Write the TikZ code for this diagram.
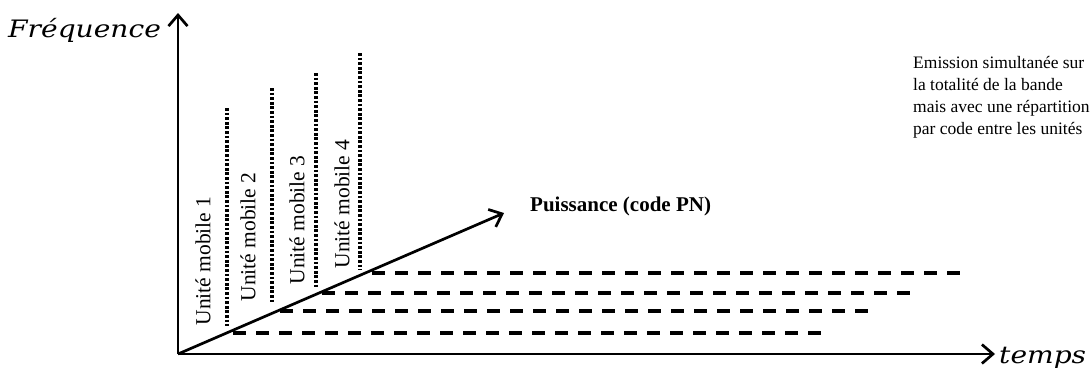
\documentclass[tikz,border=0pt]{standalone}
\usepackage{fontspec}
\setmainfont{Liberation Serif}
\newfontfamily\axisfont{DejaVu Serif}
\usetikzlibrary{arrows.meta}
\begin{document}
\begin{tikzpicture}[x=1pt,y=-1pt,
  axis/.style={line width=2.7pt,-{Straight Barb[length=11pt,width=19pt]}},
  dotline/.style={line width=3.2pt,dash pattern=on 2.8pt off 1.8pt},
  dashline/.style={line width=3.6pt,dash pattern=on 13pt off 10pt},
  mob/.style={rotate=90,font=\fontsize{21.5}{24}\selectfont,inner sep=0pt},
  axlab/.style={font=\axisfont\itshape\fontsize{24}{26}\selectfont,inner sep=0pt,xscale=1.17},
  note/.style={font=\fontsize{17.5}{22}\selectfont,align=left,inner sep=0pt},
  boldlab/.style={font=\bfseries\fontsize{21}{24}\selectfont,inner sep=0pt}
]
\useasboundingbox (0,0) rectangle (1090,368);
% axes
\coordinate (O) at (178,354);
\coordinate (ytip) at (178,13);
\coordinate (xtip) at (995,354);
\coordinate (ptip) at (504,213);
% dashed lines
\coordinate (d1s) at (233,333); \coordinate (d1e) at (828,333);
\coordinate (d2s) at (280,311); \coordinate (d2e) at (875,311);
\coordinate (d3s) at (322,293); \coordinate (d3e) at (917,293);
\coordinate (d4s) at (372,273); \coordinate (d4e) at (967,273);
\draw[dashline] (d1s) -- (d1e);
\draw[dashline] (d2s) -- (d2e);
\draw[dashline] (d3s) -- (d3e);
\draw[dashline] (d4s) -- (d4e);
% dotted lines
\coordinate (v1t) at (227,108); \coordinate (v1b) at (227,326);
\coordinate (v2t) at (272,88);  \coordinate (v2b) at (272,304);
\coordinate (v3t) at (316,73);  \coordinate (v3b) at (316,289);
\coordinate (v4t) at (360,53);  \coordinate (v4b) at (360,270);
\draw[dotline] (v1t) -- (v1b);
\draw[dotline] (v2t) -- (v2b);
\draw[dotline] (v3t) -- (v3b);
\draw[dotline] (v4t) -- (v4b);
\draw[axis] (O) -- (ytip);
\draw[axis] (O) -- (xtip);
\draw[axis] (O) -- (ptip);
% labels
\node[mob] (m1) at (203,261) {Unité mobile 1};
\node[mob] (m2) at (248,237) {Unité mobile 2};
\node[mob] (m3) at (297,220) {Unité mobile 3};
\node[mob] (m4) at (342,204) {Unité mobile 4};
\node[axlab,anchor=base west] (freq) at (8,37) {Fréquence};
\node[axlab,anchor=base west] (temps) at (999,363) {temps};
\node[boldlab,anchor=base west] (puis) at (530,211) {Puissance (code PN)};
\node[note,anchor=north west] (txt) at (913,56) {Emission simultanée sur\\la totalité de la bande\\mais avec une répartition\\par code entre les unités};
\end{tikzpicture}
\end{document}
